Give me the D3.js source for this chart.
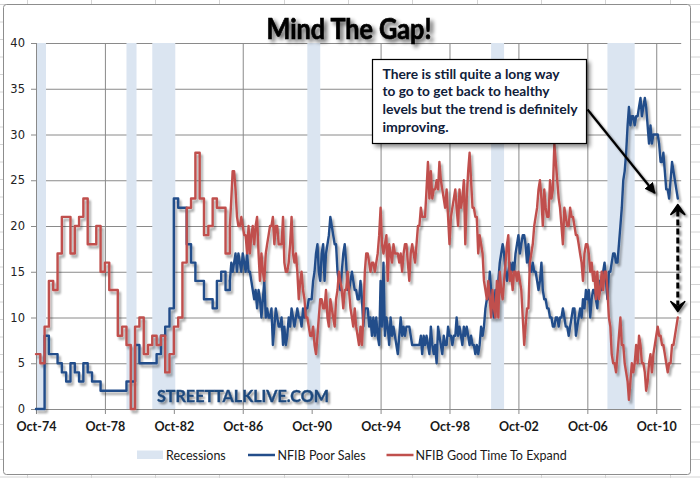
<!DOCTYPE html>
<html>
<head>
<meta charset="utf-8">
<script src="https://cdn.jsdelivr.net/npm/d3@7"></script>
<style>
  body { margin: 0; background: #fff; }
  svg { display: block; }
</style>
</head>
<body>
<svg id="chart" width="700" height="478"></svg>
<script>
// ---- data ----
// quarterly survey, Oct-74 .. Oct-85
const quarterStart = "1974-10";
const poorSalesQ = [0,0,8,6,6,5,4,3,5,4, 3,5,4,3,3,2,2,2,2,2, 2,3,3,7,5,5,5,5,6,8, 9,11,23,22,22,18,16,14,14,12, 12,11,14,15,13];
const expandQ    = [6,5,9,14,13,17,21,21,17,20, 21,23,18,18,20,15,16,13,13,8, 9,7,0,9,10,6,7,8,7,8, 4,6,9,10,16,22,23,28,23,19, 20,23,22,22,17];

// monthly survey, Jan-86 .. Jan-12 (one row per year)
const monthStart = "1986-01";
const poorSalesM = [
  14,16,15,16,17,15,17,16,15,17,16,15,
  17,15,15,14,13,12,13,11,13,12,10,12,
  14,10,11,10,10,11,7,9,11,10,9,9,
  10,7,9,7,8,10,9,11,10,9,10,11,
  10,10,9,11,10,11,11,12,12,12,14,15,
  17,18,15,14,17,18,14,17,18,19,21,20,
  19,18,18,15,14,13,15,17,18,16,13,13,
  14,15,14,13,13,12,12,14,12,9,11,11,
  11,9,10,8,10,8,10,8,7,14,9,16,
  8,10,9,7,10,8,9,8,7,6,8,10,
  8,9,8,9,9,9,8,7,7,7,7,7,
  7,8,6,8,7,8,7,6,9,7,6,7,
  5,9,8,7,6,8,7,7,9,8,8,7,
  8,8,10,8,9,8,7,9,8,9,8,7,
  8,7,7,6,7,6,7,9,8,9,11,12,
  12,15,13,11,10,13,12,14,16,17,18,17,
  15,14,15,16,15,16,15,17,18,19,17,18,
  19,19,18,16,18,15,15,16,15,15,14,13,
  14,16,13,12,12,11,11,10,10,9,9,10,
  10,9,10,10,11,10,9,9,8,9,10,11,
  11,8,9,10,11,10,12,11,13,12,13,10,
  12,13,13,12,11,14,14,13,15,16,14,12,
  15,15,16,17,17,16,16,18,20,22,25,26,
  28,31,33,31,32,32,31,32,32,33,34,32,
  33,34,33,31,29,31,29,30,30,30,30,29,
  27,27,28,26,24,24,23,25,27,26,25,24,
  23
];
const expandM = [
  20,23,26,26,24,21,20,20,21,20,19,19,
  17,20,17,19,20,18,20,21,17,14,17,15,
  14,17,18,19,20,20,21,18,20,20,18,18,
  18,21,16,15,15,16,18,21,17,16,17,15,
  12,14,15,13,12,10,10,9,8,8,9,7,
  6,8,10,12,12,11,11,13,10,9,12,11,
  10,9,12,13,15,14,13,11,13,13,15,13,
  11,10,9,11,9,8,7,9,7,10,15,17,
  17,16,15,16,16,15,16,17,19,22,18,17,
  18,19,14,18,17,16,18,17,17,17,16,17,
  15,17,18,18,16,14,17,18,17,16,18,20,
  20,22,21,21,21,24,27,23,26,23,24,24,
  25,24,27,25,24,23,22,24,21,18,21,22,
  23,24,22,20,24,22,23,25,18,23,26,28,
  25,22,22,21,21,17,19,18,17,14,13,12,
  14,12,10,13,11,10,14,10,15,13,12,14,
  16,18,19,14,15,13,15,15,14,15,14,13,
  10,7,9,11,11,16,17,18,20,21,22,24,
  25,23,20,24,22,21,21,25,23,24,29,27,
  25,23,22,20,18,22,21,20,20,22,21,21,
  20,19,19,18,17,16,14,17,18,18,17,15,
  16,14,15,12,15,12,13,15,13,15,15,13,
  10,9,6,5,5,4,6,8,10,7,7,5,
  4,3,1,3,5,4,5,7,5,8,7,5,
  5,4,2,3,5,6,4,6,7,8,9,8,
  8,7,7,6,5,4,5,5,7,7,8,9,
  10
];

const recessions = [
  ["1974-10", "1975-05"], ["1980-01", "1980-08"], ["1981-07", "1982-11"],
  ["1990-07", "1991-04"], ["2001-03", "2001-12"], ["2007-12", "2009-07"]
];
const tickLabels = ["Oct-74","Oct-78","Oct-82","Oct-86","Oct-90","Oct-94","Oct-98","Oct-02","Oct-06","Oct-10"];
const yTicks = [0, 5, 10, 15, 20, 25, 30, 35, 40];
const seriesNames = ["Recessions", "NFIB Poor Sales", "NFIB Good Time To Expand"];
const noteLines = [
  "There is still quite a long way",
  "to go to get back to healthy",
  "levels but the trend is definitely",
  "improving."
];
const titleText = "Mind The Gap!";
const watermark = "STREETTALKLIVE.COM";

// ---- layout ----
const plot = { left: 36, right: 681.2, top: 43, bottom: 409 };
const blue = "#234d8a", red = "#c0504d", shade = "#dbe5f1", grid = "#8a8a8a";

const parseMonth = d3.timeParse("%Y-%m");
const parseTick = d3.timeParse("%b-%y");

const x = d3.scaleTime()
  .domain([parseMonth("1974-10"), new Date(2012, 2, 13)])
  .range([plot.left, plot.right]);
const y = d3.scaleLinear().domain([0, 40]).range([plot.bottom, plot.top]);

const q0 = parseMonth(quarterStart), m0 = parseMonth(monthStart);
const toQ = arr => arr.map((v, i) => ({ date: d3.timeMonth.offset(q0, 3 * i), value: v }));
const toM = arr => arr.map((v, i) => ({ date: d3.timeMonth.offset(m0, i), value: v }));

const series = [
  { name: seriesNames[1], color: blue, early: toQ(poorSalesQ), late: toM(poorSalesM) },
  { name: seriesNames[2], color: red, early: toQ(expandQ), late: toM(expandM) }
];

const svg = d3.select("#chart");
const defs = svg.append("defs");

function shadow(id, dx, dy, blur, alpha) {
  const f = defs.append("filter").attr("id", id)
    .attr("filterUnits", "userSpaceOnUse")
    .attr("x", 0).attr("y", 0).attr("width", 700).attr("height", 478);
  f.append("feGaussianBlur").attr("in", "SourceAlpha").attr("stdDeviation", blur);
  f.append("feOffset").attr("dx", dx).attr("dy", dy).attr("result", "o");
  f.append("feComponentTransfer").append("feFuncA").attr("type", "linear").attr("slope", alpha);
  const m = f.append("feMerge");
  m.append("feMergeNode");
  m.append("feMergeNode").attr("in", "SourceGraphic");
}
shadow("lineShadow", 2, 3, 1.3, 0.35);
shadow("titleShadow", 3, 3, 2, 0.65);
shadow("boxShadow", 3, 3, 2, 0.45);
shadow("markShadow", 2, 2, 1.2, 0.45);

// spreadsheet cells behind the chart object
const cells = svg.append("g").attr("stroke", "#d4d4d4").attr("stroke-width", 1);
cells.selectAll("line.r").data(d3.range(4.5, 478, 17.5)).join("line")
  .attr("x1", 0).attr("x2", 700).attr("y1", d => d).attr("y2", d => d);
cells.selectAll("line.c").data(d3.range(26.5, 700, 64.3)).join("line")
  .attr("y1", 0).attr("y2", 478).attr("x1", d => Math.round(d) + 0.5).attr("x2", d => Math.round(d) + 0.5);

svg.append("rect")
  .attr("x", 3.5).attr("y", 4.5).attr("width", 687).attr("height", 470)
  .attr("rx", 3).attr("fill", "#fff").attr("stroke", "#8d8d8d");

// gridlines
const gx = svg.append("g").attr("transform", `translate(0,${plot.bottom})`)
  .call(d3.axisBottom(x).tickValues(tickLabels.map(parseTick))
    .tickSize(-(plot.bottom - plot.top)).tickFormat(""));
const gy = svg.append("g").attr("transform", `translate(${plot.left},0)`)
  .call(d3.axisLeft(y).tickValues(yTicks).tickSize(-(plot.right - plot.left)).tickFormat(""));
[gx, gy].forEach(g => {
  g.select(".domain").remove();
  g.selectAll(".tick line").attr("stroke", grid);
});

// recession shading
svg.append("g").selectAll("rect").data(recessions).join("rect")
  .attr("x", d => x(parseMonth(d[0])))
  .attr("width", d => x(parseMonth(d[1])) - x(parseMonth(d[0])))
  .attr("y", y(40)).attr("height", y(0) - y(40))
  .attr("fill", shade);

// axes
const ax = svg.append("g").attr("transform", `translate(0,${plot.bottom})`)
  .call(d3.axisBottom(x).tickValues(tickLabels.map(parseTick))
    .tickFormat(d3.timeFormat("%b-%y")).tickSize(5).tickPadding(8));
ax.select(".domain").attr("stroke", grid).attr("d", `M${plot.left},0.5H${plot.right}`);
ax.selectAll(".tick line").attr("stroke", grid);
ax.selectAll(".tick text").attr("font-family", "Lato, 'Open Sans', sans-serif")
  .attr("font-weight", "bold").attr("font-size", 12.5).attr("fill", "#1a1a1a");

const ay = svg.append("g").attr("transform", `translate(${plot.left},0)`)
  .call(d3.axisLeft(y).tickValues(yTicks).tickSize(5).tickPadding(6));
ay.select(".domain").attr("stroke", grid).attr("d", `M0.5,${plot.top}V${plot.bottom}`);
ay.selectAll(".tick line").attr("stroke", grid);
ay.selectAll(".tick text").attr("font-family", "'DejaVu Sans', Verdana, sans-serif")
  .attr("font-size", 11.5).attr("fill", "#222");

// watermark
svg.append("text")
  .attr("x", 157).attr("y", 402)
  .attr("font-family", "Lato, sans-serif").attr("font-weight", "bold").attr("font-size", 17)
  .attr("textLength", 172).attr("lengthAdjust", "spacingAndGlyphs")
  .attr("fill", "#1f497d").attr("stroke", "#1f497d").attr("stroke-width", 0.4)
  .attr("filter", "url(#markShadow)")
  .text(watermark);

// series lines
const stepLine = d3.line().x(d => x(d.date)).y(d => y(d.value)).curve(d3.curveStepAfter);
const monthLine = d3.line().x(d => x(d.date)).y(d => y(d.value));
const lines = svg.append("g").attr("filter", "url(#lineShadow)")
  .attr("fill", "none").attr("stroke-width", 2.4)
  .attr("stroke-linejoin", "round").attr("stroke-linecap", "round");
series.forEach(s => {
  lines.append("path").datum(s.early.concat([s.late[0]]))
    .attr("stroke", s.color).attr("d", stepLine);
  lines.append("path").datum(s.late)
    .attr("stroke", s.color).attr("d", monthLine);
});

// gap arrow between the last two readings
const lastDate = series[0].late[series[0].late.length - 1].date;
const gapX = x(lastDate);
const gapTop = y(series[0].late[series[0].late.length - 1].value) + 6;
const gapBot = y(series[1].late[series[1].late.length - 1].value) - 6;
const gap = svg.append("g").attr("filter", "url(#markShadow)");
gap.append("line")
  .attr("x1", gapX).attr("x2", gapX).attr("y1", gapTop + 6).attr("y2", gapBot - 6)
  .attr("stroke", "#000").attr("stroke-width", 3).attr("stroke-dasharray", "6,3");
gap.append("path")
  .attr("d", `M${gapX},${gapTop} l7,10 l-7,-5 l-7,5 z`)
  .attr("fill", "#000").attr("stroke", "#000").attr("stroke-width", 1.5).attr("stroke-linejoin", "round");
gap.append("path")
  .attr("d", `M${gapX},${gapBot} l7,-10 l-7,5 l-7,-5 z`)
  .attr("fill", "#000").attr("stroke", "#000").attr("stroke-width", 1.5).attr("stroke-linejoin", "round");

// callout
const box = { x: 372.5, y: 59.5, w: 214, h: 84 };
svg.append("rect")
  .attr("x", box.x).attr("y", box.y).attr("width", box.w).attr("height", box.h)
  .attr("fill", "#fff").attr("stroke", "#000").attr("stroke-width", 1.2)
  .attr("filter", "url(#boxShadow)");
const noteWidths = [177, 167, 195, 66];
svg.append("g").selectAll("text").data(noteLines).join("text")
  .attr("x", box.x + 10).attr("y", (d, i) => box.y + 19 + i * 17.8)
  .attr("font-family", "Lato, sans-serif").attr("font-weight", "bold").attr("font-size", 14)
  .attr("textLength", (d, i) => noteWidths[i]).attr("lengthAdjust", "spacingAndGlyphs")
  .attr("fill", "#10203a")
  .text(d => d);

defs.append("marker").attr("id", "head")
  .attr("viewBox", "0 0 10 10").attr("refX", 9).attr("refY", 5)
  .attr("markerWidth", 5).attr("markerHeight", 5).attr("orient", "auto")
  .append("path").attr("d", "M0,0L10,5L0,10z").attr("fill", "#000");
const tipX = x(new Date(2010, 8, 1)), tipY = y(23.6);
svg.append("line")
  .attr("x1", box.x + box.w + 1).attr("y1", box.y + 50)
  .attr("x2", tipX).attr("y2", tipY)
  .attr("stroke", "#000").attr("stroke-width", 2.2)
  .attr("marker-end", "url(#head)")
  .attr("filter", "url(#markShadow)");

// title
svg.append("text")
  .attr("x", 349).attr("y", 39).attr("text-anchor", "middle")
  .attr("font-family", "Lato, sans-serif").attr("font-weight", "bold").attr("font-size", 28)
  .attr("textLength", 165).attr("lengthAdjust", "spacingAndGlyphs")
  .attr("fill", "#000").attr("stroke", "#000").attr("stroke-width", 0.7)
  .attr("filter", "url(#titleShadow)")
  .text(titleText);

// legend
const legend = svg.append("g").attr("font-family", "Lato, sans-serif").attr("font-size", 12.5).attr("fill", "#1a1a1a");
const legendItems = [
  { name: seriesNames[0], kind: "box", color: shade, x: 137, tx: 166 },
  { name: seriesNames[1], kind: "line", color: blue, x: 248, tx: 277.5 },
  { name: seriesNames[2], kind: "line", color: red, x: 386.5, tx: 415.5 }
];
legendItems.forEach(d => {
  if (d.kind === "box") {
    legend.append("rect").attr("x", d.x).attr("y", 450.5).attr("width", 26).attr("height", 8.5).attr("fill", d.color);
  } else {
    legend.append("line").attr("x1", d.x).attr("x2", d.x + 27).attr("y1", 455).attr("y2", 455)
      .attr("stroke", d.color).attr("stroke-width", 2.5);
  }
  legend.append("text").attr("x", d.tx).attr("y", 459.5).text(d.name);
});
</script>
</body>
</html>
